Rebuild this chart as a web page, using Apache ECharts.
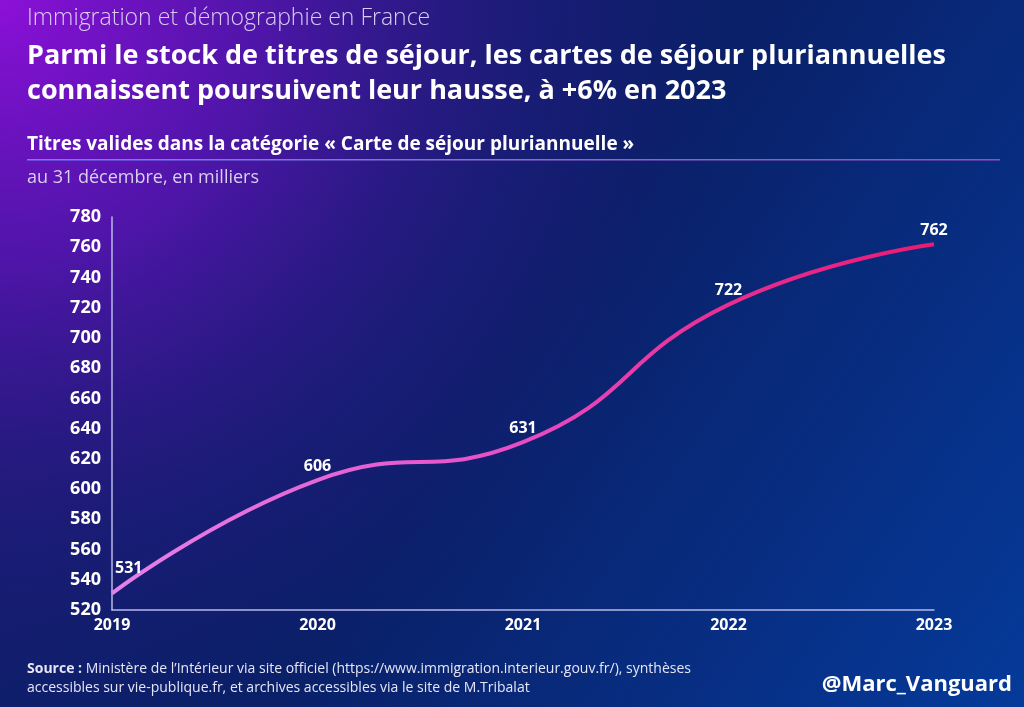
<!DOCTYPE html>
<html><head><meta charset="utf-8">
<style>html,body{margin:0;padding:0;background:#101c6a}#c{width:1024px;height:707px}</style>
<script src="https://cdn.jsdelivr.net/npm/echarts@6/dist/echarts.min.js"></script>
</head><body><div id="c"></div>
<script>
const years = ['2019','2020','2021','2022','2023'];
const values = [531, 606, 631, 722, 762];
const yMin = 520, yMax = 780, yStep = 20;

const chart = echarts.init(document.getElementById('c'));
const F = '"Open Sans", Lato, sans-serif';
const dataItems = values.map((v, i) => i === 0
  ? { value: v, label: { position: 'right', offset: [-3, -25] } }
  : { value: v });

chart.setOption({
  backgroundColor: new echarts.graphic.LinearGradient(0, 0, 1, 1, [
    { offset: 0, color: '#141d6c' },
    { offset: 0.5, color: '#0a2068' },
    { offset: 1, color: '#053a9a' }
  ]),
  grid: { left: 112, right: 90, top: 217, bottom: 97 },
  xAxis: {
    type: 'category', data: years, boundaryGap: false,
    axisLine: { lineStyle: { color: '#b8b8e8', width: 1.5 } },
    axisTick: { show: false },
    axisLabel: { color: '#ffffff', fontFamily: F, fontWeight: 'bold', fontSize: 16, margin: 7 },
    splitLine: { show: false }
  },
  yAxis: {
    type: 'value', min: yMin, max: yMax, interval: yStep,
    axisLine: { show: true, lineStyle: { color: '#b8b8e8', width: 1.5 } },
    axisTick: { show: false },
    axisLabel: { color: '#ffffff', fontFamily: F, fontWeight: 'bold', fontSize: 18, margin: 11 },
    splitLine: { show: false }
  },
  series: [{
    type: 'line', data: dataItems, smooth: 0.5, symbol: 'circle', symbolSize: 2, showSymbol: true,
    itemStyle: { color: 'rgba(0,0,0,0)' },
    lineStyle: {
      width: 4,
      color: new echarts.graphic.LinearGradient(0, 0, 1, 0, [
        { offset: 0, color: '#e482ea' },
        { offset: 0.5, color: '#e84cc4' },
        { offset: 0.75, color: '#e82d92' },
        { offset: 1, color: '#ea1a72' }
      ])
    },
    label: { show: true, position: 'top', distance: 5, color: '#ffffff', fontFamily: F, fontWeight: 'bold', fontSize: 16 }
  }],
  graphic: [
    { type: 'rect', left: 0, top: 0, z: -100, silent: true, shape: { width: 1024, height: 707 },
      style: { fill: new echarts.graphic.RadialGradient(0, 0, 1.05, [
        { offset: 0, color: 'rgba(140,16,216,1)' },
        { offset: 0.35, color: 'rgba(100,18,190,0.75)' },
        { offset: 0.7, color: 'rgba(60,20,150,0.3)' },
        { offset: 1, color: 'rgba(40,20,130,0)' }]) } },
    { type: 'text', left: 27, top: 7, style: { text: 'Immigration et démographie en France', fill: '#d9cdf2', font: '300 23px ' + F } },
    { type: 'text', left: 27, top: 43, style: { text: 'Parmi le stock de titres de séjour, les cartes de séjour pluriannuelles', fill: '#ffffff', font: 'bold 27px ' + F } },
    { type: 'text', left: 27, top: 78, style: { text: 'connaissent poursuivent leur hausse, à +6% en 2023', fill: '#ffffff', font: 'bold 27px ' + F } },
    { type: 'text', left: 27, top: 135, style: { text: 'Titres valides dans la catégorie « Carte de séjour pluriannuelle »', fill: '#ffffff', font: 'bold 19px ' + F } },
    { type: 'rect', left: 27, top: 159, shape: { width: 973, height: 1.5 },
      style: { fill: new echarts.graphic.LinearGradient(0, 0, 1, 0, [
        { offset: 0, color: '#6a80ff' }, { offset: 0.5, color: '#8a6ad8' }, { offset: 1, color: '#9a4ac0' }]) } },
    { type: 'text', left: 27, top: 169, style: { text: 'au 31 décembre, en milliers', fill: '#d8d0f0', font: '18px ' + F } },
    { type: 'text', left: 27, top: 660, style: { text: '{b|Source :} Ministère de l\u2019Intérieur via site officiel (https://www.immigration.interieur.gouv.fr/), synthèses\naccessibles sur vie-publique.fr, et archives accessibles via le site de M.Tribalat',
      fill: '#e6e6f6', font: '14px ' + F, lineHeight: 19,
      rich: { b: { fontWeight: 'bold', fontFamily: F, fontSize: 14, fill: '#e6e6f6' } } } },
    { type: 'text', right: 12, top: 674, style: { text: '@Marc_Vanguard', fill: '#ffffff', font: 'bold 22px ' + F } }
  ]
});
</script></body></html>
